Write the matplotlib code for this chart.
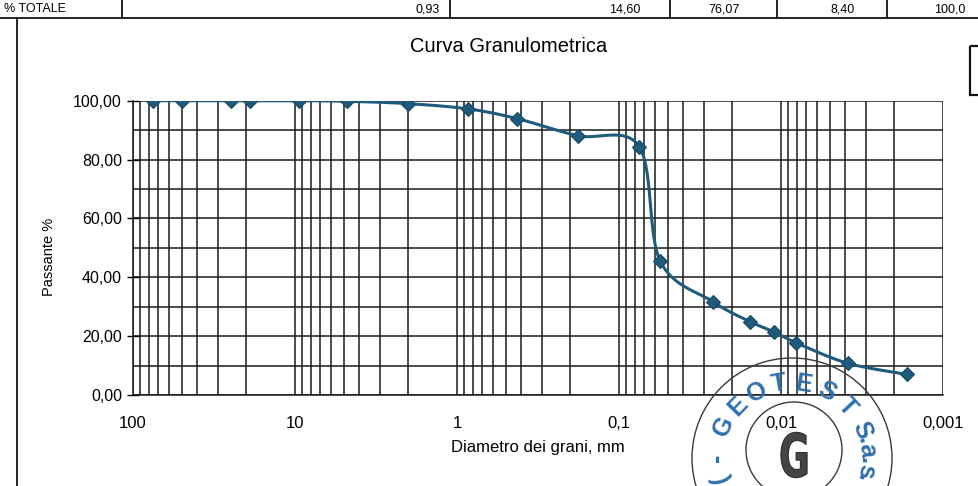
import numpy as np
import matplotlib
matplotlib.use("Agg")
import matplotlib.pyplot as plt
from matplotlib.patches import Circle, Rectangle, PathPatch
from matplotlib.textpath import TextPath
from matplotlib.font_manager import FontProperties
from matplotlib.transforms import Affine2D
from matplotlib.ticker import FixedLocator, NullFormatter

plt.rcParams['font.family'] = ['Liberation Sans', 'DejaVu Sans']

# sieve + hydrometer results
diam_mm = [75, 50, 25, 19, 9.5, 4.75, 2.0, 0.85, 0.425, 0.18, 0.075,
           0.0558, 0.0263, 0.0155, 0.0111, 0.0081, 0.00388, 0.00167]
passing = [100.0, 100.0, 100.0, 100.0, 100.0, 99.8, 99.0, 97.2, 93.9, 88.1, 84.4,
           45.6, 31.7, 24.9, 21.5, 17.8, 10.8, 7.0]

y_ticks = [0, 20, 40, 60, 80, 100]
y_tick_labels = ["0,00", "20,00", "40,00", "60,00", "80,00", "100,00"]
x_ticks = [100, 10, 1, 0.1, 0.01, 0.001]
x_tick_labels = ["100", "10", "1", "0,1", "0,01", "0,001"]

# summary row of the table above the chart
table_cells = ["% TOTALE", "0,93", "14,60", "76,07", "8,40", "100,0"]

curve_col = '#1f5b7c'
stamp_col = '#2f6fae'

W, H = 979, 486
fig = plt.figure(figsize=(W / 100, H / 100), dpi=100)
ax = fig.add_axes([133 / W, 1 - 395 / H, (943 - 133) / W, (395 - 100.7) / H])

ax.set_xscale('log')
ax.set_xlim(100, 0.001)
ax.set_ylim(0, 100)

# smoothed curve: cubic Bezier through points, computed in screen-like units
px_dec = 161.8
px_pct = 2.943
u = -np.log10(diam_mm) * px_dec
v = np.array(passing) * px_pct
pts = np.column_stack([u, v])
n = len(pts)
cu, cv = [], []
t = np.linspace(0, 1, 40)
for i in range(n - 1):
    p0 = pts[i]
    p3 = pts[i + 1]
    prev = pts[i - 1] if i > 0 else pts[i]
    nxt = pts[i + 2] if i + 2 < n else pts[i + 1]
    p1 = p0 + (p3 - prev) / 6.0
    p2 = p3 - (nxt - p0) / 6.0
    b = ((1 - t) ** 3)[:, None] * p0 + (3 * (1 - t) ** 2 * t)[:, None] * p1 \
        + (3 * (1 - t) * t ** 2)[:, None] * p2 + (t ** 3)[:, None] * p3
    cu.append(b[:, 0])
    cv.append(b[:, 1])
cu = np.concatenate(cu)
cv = np.concatenate(cv)
ax.plot(10 ** (-cu / px_dec), cv / px_pct, color=curve_col, lw=2.2, zorder=4,
        solid_capstyle='round')
ax.plot(diam_mm, passing, ls='none', marker='D', ms=7.5, color=curve_col,
        mec='#174a66', mew=0.8, zorder=5)

# grid: every decade subdivided 1..9, horizontal every 10 %
ax.xaxis.set_major_locator(FixedLocator(x_ticks))
ax.xaxis.set_minor_locator(FixedLocator(
    [m * 10.0 ** e for e in range(-3, 2) for m in range(2, 10)]))
ax.xaxis.set_minor_formatter(NullFormatter())
ax.set_xticklabels(x_tick_labels, fontsize=12)
ax.yaxis.set_major_locator(FixedLocator(y_ticks))
ax.yaxis.set_minor_locator(FixedLocator(range(10, 100, 20)))
ax.set_yticklabels(y_tick_labels, fontsize=11.5)
ax.grid(which='both', axis='both', color='#1a1a1a', lw=1.1)
ax.tick_params(axis='x', which='both', length=0, pad=15)
ax.tick_params(axis='y', which='major', length=8, direction='inout', width=1.0, pad=4)
ax.tick_params(axis='y', which='minor', length=0)
for s in ['top', 'right']:
    ax.spines[s].set_visible(False)
for s in ['left', 'bottom']:
    ax.spines[s].set_color('#1a1a1a')
    ax.spines[s].set_linewidth(1.1)

ax.set_ylabel("Passante %", fontsize=10.5)
ax.yaxis.set_label_coords(-0.095, 0.47)
ax.set_xlabel("Diametro dei grani, mm", fontsize=12, va='center')
ax.xaxis.set_label_coords(0.5, -0.18)

# page overlay in pixel units: frame, table row, title, stamp
ov = fig.add_axes([0, 0, 1, 1], zorder=10)
ov.set_xlim(0, W)
ov.set_ylim(H, 0)
ov.axis('off')
ov.patch.set_alpha(0)

ov.plot([0, W], [18, 18], color='#111111', lw=1.3)
ov.plot([17, 17], [18, H], color='#111111', lw=1.3)
for xs in [122, 450, 670, 777, 887]:
    ov.plot([xs, xs], [0, 18], color='#111111', lw=1.3)
cell_right = [None, 440, 640, 740, 855, 965]
ov.text(4, 9, table_cells[0], fontsize=9, va='center', ha='left')
for txt, xr in zip(table_cells[1:], cell_right[1:]):
    ov.text(xr, 9, txt, fontsize=9, va='center', ha='right')

ov.text(509, 46, "Curva Granulometrica", fontsize=14.5, ha='center', va='center')

ov.add_patch(Rectangle((970, 46), 20, 49, fill=False, ec='#111111', lw=1.6))

# company stamp
cx, cy, r_out, r_in = 792, 458, 100, 48
ov.add_patch(Circle((cx, cy), r_out, fill=False, ec='#3a3a3a', lw=1.0))
ov.add_patch(Circle((794, 450), r_in, fill=False, ec='#3a3a3a', lw=1.0))
letters = ["(", "-", "G", "E", "O", "T", "E", "S", "T", "S", ".", "a", ".", "s", "."]
angles = [-106, -90, -65, -46, -28, -10, 9, 28, 47, 68, 76, 84, 92, 100, 106]
for ch, ang in zip(letters, angles):
    a = np.deg2rad(ang)
    rr = 75
    tx = cx + rr * np.sin(a)
    ty = cy - rr * np.cos(a)
    ov.text(tx, ty, ch, fontsize=18, color=stamp_col, ha='center', va='center',
            rotation=-ang, rotation_mode='anchor', fontweight='bold')

# tall logo letter in the centre of the stamp
logo = TextPath((0, 0), "G", size=30,
                prop=FontProperties(family='DejaVu Sans', weight='bold'))
ext = logo.get_extents()
tr = Affine2D().translate(-(ext.x0 + ext.x1) / 2, -(ext.y0 + ext.y1) / 2) \
    .scale(1.25, -2.0).translate(794, 455)
ov.add_patch(PathPatch(tr.transform_path(logo), fc='#444444', ec='#2e2e2e', lw=0.8))

fig.savefig("out.png", dpi=100)
